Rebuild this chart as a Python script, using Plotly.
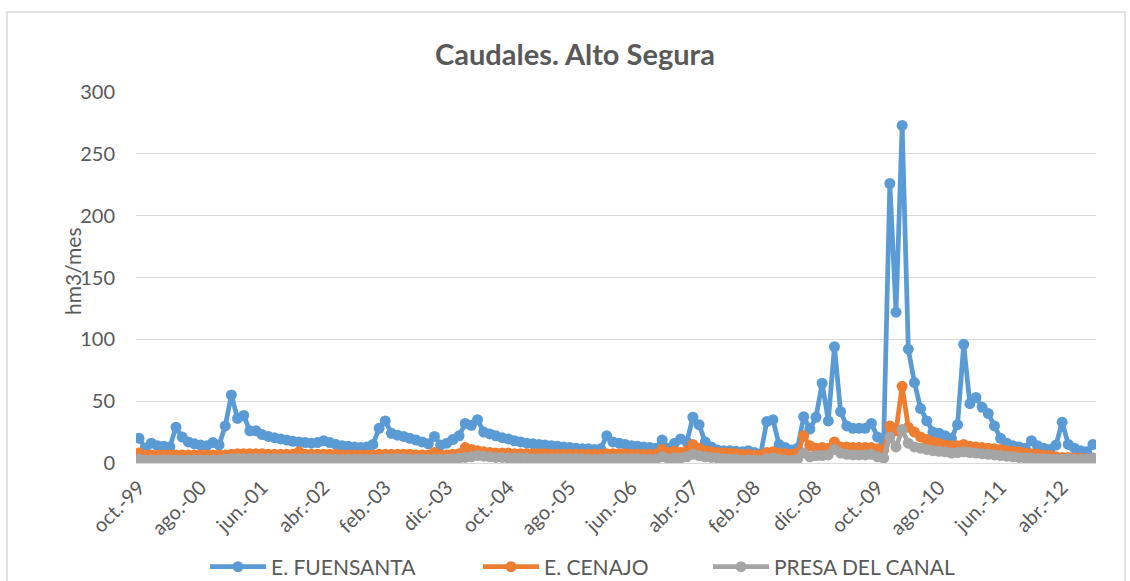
import plotly.graph_objects as go

# Spanish month abbreviations (hydrological year starting in October)
month_abbr = ["oct.", "nov.", "dic.", "ene.", "feb.", "mar.", "abr.", "may.", "jun.", "jul.", "ago.", "sep."]
start_year = 1999
n_years = 13

categories = []
for y in range(n_years):
    for m, name in enumerate(month_abbr):
        yr = start_year + y + (1 if m >= 3 else 0)
        categories.append(f"{name}-{yr % 100:02d}")

fuensanta = [
    20, 12, 16, 14, 13.5, 13, 29, 21, 17, 15.5,
    14.5, 14, 16.5, 14.5, 30, 55, 36, 38.5, 26, 26,
    23, 21.5, 20.5, 19.5, 18.5, 17.5, 17, 16.5, 16, 16.5,
    18, 16.5, 15, 14, 13.5, 13, 12.5, 13, 15, 28,
    34, 24, 22.5, 21.5, 20, 18.5, 17, 15.5, 21.5, 14.5,
    16, 19, 22, 32, 30.5, 35, 25, 23.5, 22, 20.5,
    19.5, 18, 17, 16, 15.5, 15, 14.5, 14, 13.5, 13,
    12.5, 12, 11.5, 11.5, 11, 11.5, 22, 17, 16, 15,
    14, 13.5, 13, 12.5, 12, 18.5, 12, 16, 19.5, 17,
    37, 31, 17, 13, 10.5, 10, 10, 9.5, 9, 10,
    8.5, 7, 33.5, 35, 15, 12.5, 10.5, 12, 37.5, 27.5,
    37, 64.5, 34, 94, 41.5, 30, 28, 28, 28, 32,
    21, 18, 226, 122, 273, 92, 65, 44, 34, 25,
    24, 22, 20, 31, 96, 48, 53, 45, 40, 30,
    20, 16, 14, 13, 12, 18, 14, 12, 11, 14.5,
    33, 15, 12, 10, 9, 15,
]

cenajo = [
    8, 6.5, 6.5, 6.5, 6.5, 6.5, 6.5, 6.5, 6.5, 6.5,
    6.5, 6.5, 6.5, 6.5, 6.5, 7, 7.5, 7.5, 7.5, 7.5,
    7.5, 7, 7, 7, 7, 7, 9, 7, 7, 7,
    7, 7, 7, 6.5, 6.5, 6.5, 6.5, 6.5, 6.5, 7,
    7, 7, 7, 7, 7, 6.5, 6.5, 6.5, 8.5, 6.5,
    6.5, 7, 7.5, 12.5, 11, 10, 9, 8.5, 8, 8,
    8, 7.5, 7.5, 7.5, 7.5, 7.5, 7.5, 7, 7, 7,
    7, 7, 7, 7, 7, 7, 7.5, 7.5, 7.5, 7.5,
    7, 7, 7, 7, 7, 11, 8.5, 9.5, 8.5, 10,
    15, 12, 10, 9, 8.5, 8, 8, 7.5, 7, 7,
    6.5, 6.5, 8.5, 9, 8, 7.5, 7, 8, 22, 14,
    12, 12.5, 12, 17, 13, 13, 12.5, 12.5, 12.5, 12.5,
    11.5, 10.5, 30, 26, 62, 29, 25, 21, 19, 17,
    16, 14.5, 14, 14, 15, 13.5, 13, 12.5, 12, 11.5,
    11, 10, 9.5, 9, 8, 7.5, 7, 6.5, 6, 5,
    4.5, 4.5, 4, 4, 3.5, 3.5,
]

presa_canal = [
    3, 2.5, 2.5, 2.5, 2.5, 2.5, 2.5, 2.5, 2.5, 2.5,
    2.5, 2.5, 2.5, 2.5, 3, 3.5, 3.5, 3.5, 3.5, 3.5,
    3.5, 3.5, 3.5, 3.5, 3.5, 3.5, 3.5, 3.5, 3.5, 3.5,
    3.5, 3, 3, 3, 3, 3, 3, 3, 3, 3,
    3.5, 3.5, 3.5, 3.5, 3, 3, 3, 3, 3, 3,
    3, 3.5, 4, 4.5, 5, 6, 5.5, 5, 4.5, 4.5,
    4, 4, 4, 4, 3.5, 3.5, 3.5, 3.5, 3.5, 3.5,
    3.5, 3.5, 3.5, 3, 3, 3, 3.5, 3.5, 3.5, 3.5,
    3.5, 3.5, 3, 3, 3, 5, 3.5, 4, 4, 5,
    7, 6, 5, 4.5, 4, 3.5, 3, 3, 2.5, 2.5,
    2.5, 2, 3.5, 4, 3, 2.5, 2, 3, 8, 5,
    6, 6, 6.5, 11, 8, 7, 6.5, 6.5, 6.5, 7,
    5, 4, 21, 13, 27, 16, 13, 12, 11, 10,
    9.5, 9, 8, 8.5, 9, 8.5, 8, 7.5, 7, 6.5,
    6, 5.5, 5, 4.5, 4, 4, 3.5, 3.5, 3, 3,
    3, 3.5, 3, 3, 3, 4,
]

series_names = ["E. FUENSANTA", "E. CENAJO", "PRESA DEL CANAL"]
series_colors = ["#5B9BD5", "#ED7D31", "#A5A5A5"]
series_values = [fuensanta, cenajo, presa_canal]

tick_labels = categories[::10]
y_ticks = [0, 50, 100, 150, 200, 250, 300]

FONT = "Lato, 'Open Sans', sans-serif"
TXT = "#595959"
GRID = "#D9D9D9"

W, H = 1130, 581
L, R, T, B = 136, 34, 92, 118
PW, PH = W - L - R, H - T - B

legend_ids = ["legend", "legend2", "legend3"]
legend_left_px = [205, 478, 708]

fig = go.Figure()
for name, color, vals, lid in zip(series_names, series_colors, series_values, legend_ids):
    fig.add_trace(go.Scatter(
        x=categories, y=vals, name=name, mode="lines+markers",
        line=dict(color=color, width=4.75),
        marker=dict(color=color, size=11, symbol="circle"),
        legend=lid,
    ))

legend_style = dict(orientation="h", xanchor="left", yanchor="middle",
                    y=(T + PH - 567) / PH,
                    font=dict(family=FONT, size=21, color=TXT), itemwidth=56,
                    bgcolor="rgba(0,0,0,0)")
legends = {lid: dict(legend_style, x=(px - L) / PW) for lid, px in zip(legend_ids, legend_left_px)}

fig.update_layout(
    width=W, height=H,
    paper_bgcolor="white", plot_bgcolor="white",
    margin=dict(l=L, r=R, t=T, b=B, autoexpand=False),
    font=dict(family=FONT, color=TXT, size=20),
    title=dict(text="<b>Caudales. Alto Segura</b>", x=575 / W, xref="container", xanchor="center",
               y=1 - 55 / H, yref="container", yanchor="middle",
               font=dict(family=FONT, size=29, color=TXT)),
    showlegend=True,
    annotations=[dict(text="hm3/mes", xref="paper", yref="paper",
                      x=(72 - L) / PW, y=(T + PH - 271) / PH, xanchor="center", yanchor="middle",
                      textangle=-90, showarrow=False,
                      font=dict(family=FONT, size=21, color=TXT))],
    shapes=[dict(type="rect", xref="paper", yref="paper",
                 x0=(7 - L) / PW, x1=(1125 - L) / PW,
                 y0=(T + PH - 600) / PH, y1=(T + PH - 12) / PH,
                 line=dict(color=GRID, width=1.5), fillcolor="rgba(0,0,0,0)", layer="below")],
    **legends,
)

fig.update_xaxes(
    type="category", categoryorder="array", categoryarray=categories,
    range=[-0.5, len(categories) - 0.5],
    tickmode="array", tickvals=tick_labels, ticktext=tick_labels,
    tickangle=-45, showgrid=False, showline=True, linecolor=GRID, linewidth=1,
    ticks="", ticklabelstandoff=4, tickfont=dict(family=FONT, size=20, color=TXT),
)
fig.update_yaxes(
    range=[0, 300], tickvals=y_ticks, showgrid=True, gridcolor=GRID, gridwidth=1,
    zeroline=False, showline=False, ticks="", ticklabelstandoff=20,
    tickfont=dict(family=FONT, size=20, color=TXT),
)

fig.write_html("out.html", config={"displayModeBar": False},
               post_script="document.body.style.margin='0';document.body.style.padding='0';")
